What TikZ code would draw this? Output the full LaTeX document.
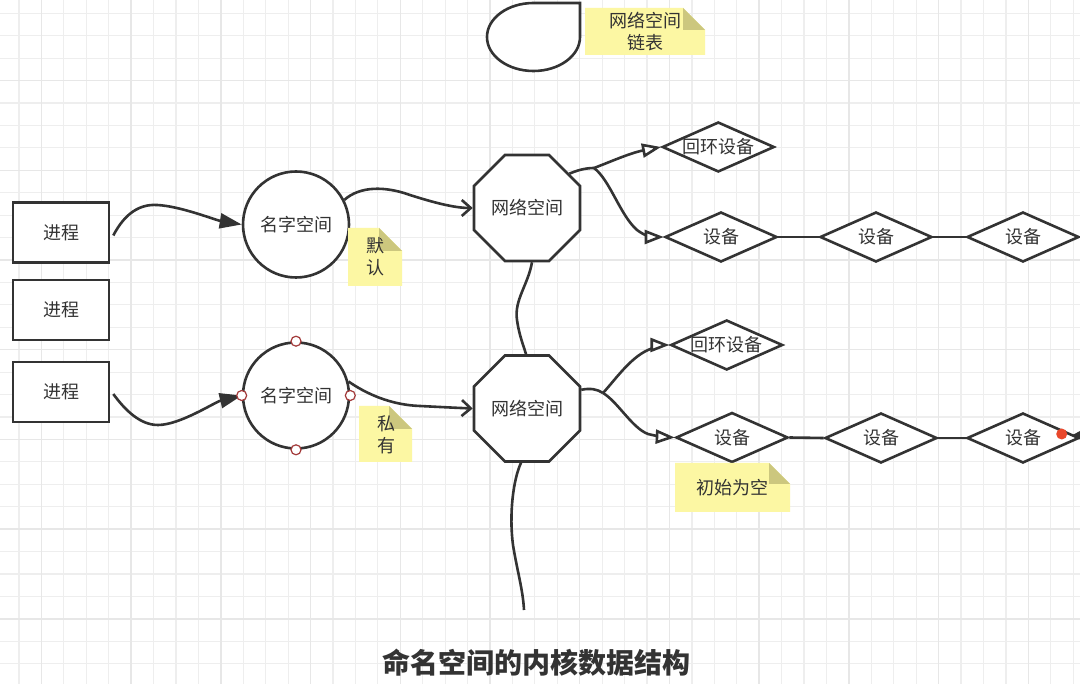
\documentclass[tikz,border=0pt]{standalone}
\usepackage{fontspec}
\setmainfont{Noto Sans CJK SC}
\usetikzlibrary{arrows.meta,shapes.geometric,calc}
\definecolor{ink}{HTML}{333333}
\definecolor{gridminor}{HTML}{EEEEEE}
\definecolor{gridmajor}{HTML}{E7E7E7}
\definecolor{notefill}{HTML}{FCF7A3}
\definecolor{notefold}{HTML}{CCC77E}
\definecolor{handle}{HTML}{A33A3A}
\definecolor{reddot}{HTML}{E9472B}
\newcommand\stickynote[5]{%
  \fill[notefill] (#1,#2) -- ({#3-#5},#2) -- (#3,{#2+#5}) -- (#3,#4) -- (#1,#4) -- cycle;
  \fill[notefold] ({#3-#5},#2) -- ({#3-#5},{#2+#5}) -- (#3,{#2+#5}) -- cycle;}
\begin{document}
\begin{tikzpicture}[x=1pt,y=-1pt,
  txt/.style={text=ink,font=\fontsize{18}{22}\selectfont,inner sep=0pt,align=center},
  proc/.style={txt,draw=ink,line width=2.6pt,fill=white,minimum width=96pt,minimum height=60pt},
  nsp/.style={txt,circle,draw=ink,line width=2.6pt,fill=white,minimum size=106pt},
  net/.style={txt,regular polygon,regular polygon sides=8,draw=ink,line width=2.6pt,fill=white,minimum size=114.7pt},
  dev/.style={diamond,aspect=2.24,draw=ink,line width=2.6pt,fill=white,minimum width=112pt,minimum height=50pt,inner sep=0pt},
  devlabel/.style={label={[txt]center:#1}},
  hnd/.style={circle,draw=handle,line width=1.2pt,fill=white,minimum size=10pt,inner sep=0pt},
  conn/.style={draw=ink,line width=2.6pt},
  fillarrow/.style={conn,-{Triangle[length=22pt,width=15pt]}},
  openv/.style={conn,-{Straight Barb[length=9pt,width=16pt]}},
  opentri/.style={conn,-{Triangle[length=19pt,width=14pt,fill=white]}}
]
\useasboundingbox (0,0) rectangle (1080,684);
\fill[white] (0,0) rectangle (1080,684);
% grid
\foreach \k in {0,...,47}{\draw[gridminor,line width=1.2pt] ({19+22.43*\k},0) -- ({19+22.43*\k},684);}
\foreach \k in {0,...,30}{\draw[gridminor,line width=1.2pt] (0,{13.3+22.43*\k}) -- (1080,{13.3+22.43*\k});}
\foreach \k in {0,...,11}{\draw[gridmajor,line width=1.4pt] ({41.4+89.72*\k},0) -- ({41.4+89.72*\k},684);}
\foreach \k in {0,...,7}{\draw[gridmajor,line width=1.4pt] (0,{80.6+89.72*\k}) -- (1080,{80.6+89.72*\k});}

% top list shape
\draw[ink,line width=2.6pt,fill=white] (533.5,3) -- (580,3) -- (580,37)
  .. controls (580,55.8) and (559.2,71) .. (533.5,71)
  .. controls (507.8,71) and (487,55.8) .. (487,37)
  .. controls (487,18.2) and (507.8,3) .. (533.5,3) -- cycle;
\stickynote{585}{8}{705}{55}{22}
\node[txt] (n0) at (645,31.5) {网络空间\\链表};

% processes
\node[proc] (b1) at (61,232.5) {进程};
\node[proc] (b2) at (61,310) {进程};
\node[proc] (b3) at (61,392) {进程};

% namespaces
\node[nsp] (c1) at (296,224.5) {名字空间};
\node[nsp] (c2) at (296,395.5) {名字空间};

% net namespaces
\node[net] (o1) at (527,208) {网络空间};
\node[net] (o2) at (527,408.5) {网络空间};

% devices
\node[dev,devlabel=回环设备] (d11) at (718.3,147) {};
\node[dev,devlabel=设备] (d12) at (721,237) {};
\node[dev,devlabel=设备] (d13) at (876,237) {};
\node[dev,devlabel=设备] (d14) at (1023,237) {};
\node[dev,devlabel=回环设备] (d21) at (726.7,345) {};
\node[dev,devlabel=设备] (d22) at (732,437.5) {};
\node[dev,devlabel=设备] (d23) at (881,438) {};
\node[dev,devlabel=设备] (d24) at (1023,438) {};

\coordinate (j1) at (594,168);
\coordinate (j2) at (603,393);
\coordinate (tail) at (524,610);

% connectors
\draw[fillarrow] ([xshift=3pt,yshift=-3pt]b1.east) .. controls (125,213) and (140,204) .. (157,205)
  .. controls (180,206) and (215,220) .. (c1.west);
\draw[fillarrow] ([xshift=3pt,yshift=-2pt]b3.east) .. controls (125,410) and (140,425) .. (158,425)
  .. controls (180,425) and (215,402) .. (c2.west);
\draw[openv] (c1.27) .. controls (360,186) and (385,186) .. (410,195)
  .. controls (435,203) and (455,208) .. (o1.west);
\draw[openv] (c2.15) .. controls (365,393) and (390,405) .. (420,406)
  .. controls (440,407) and (460,408) .. (o2.west);
\draw[conn] ([xshift=5pt]o1.south) .. controls (528,285) and (514,300) .. (517,320)
  .. controls (519,335) and (524,347) .. ([xshift=-1pt]o2.north);
\draw[conn] ([xshift=-6pt]o2.south) .. controls (513,480) and (509,515) .. (513,545)
  .. controls (517,570) and (523,590) .. (tail);

\draw[conn] (o1.39) .. controls (578,170) and (586,168) .. (j1);
\draw[opentri] (j1) .. controls (610,162) and (630,153) .. (d11.west);
\draw[opentri] (j1) .. controls (610,180) and (620,215) .. (637,230)
  .. controls (645,236) and (652,237) .. (d12.west);
\draw[conn] (o2.19) .. controls (590,388) and (597,389) .. (j2);
\draw[opentri] (j2) .. controls (615,380) and (630,358) .. (648,350)
  .. controls (655,347) and (662,345) .. (d21.west);
\draw[opentri] (j2) .. controls (618,402) and (632,428) .. (648,434)
  .. controls (656,436) and (664,437) .. (d22.west);

\draw[conn] (d12.east) -- (d13.west);
\draw[conn] (d13.east) -- (d14.west);
\draw[conn] (d22.east) -- (d23.west);
\draw[conn] (d23.east) -- (d24.west);

% handles on selected namespace
\node[hnd] (h1) at (c2.north) {};
\node[hnd] (h2) at (c2.west) {};
\node[hnd] (h3) at (c2.east) {};
\node[hnd] (h4) at (c2.south) {};

% red dot and cut arrow at right
\node[circle,fill=reddot,minimum size=11pt,inner sep=0pt] (rd) at (1061.7,434) {};
\fill[ink] (1072.5,435) -- (1081,430.5) -- (1081,440) -- cycle;

% notes
\stickynote{348}{228}{402}{286}{23}
\node[txt] (n1) at (375,257) {默\\认};
\stickynote{359}{406}{412}{462}{23}
\node[txt] (n2) at (386,434.5) {私\\有};
\stickynote{675}{463}{790}{512}{21}
\node[txt] (n3) at (732,487.5) {初始为空};

% title
\node[text=ink,font=\fontsize{28}{32}\selectfont\bfseries,inner sep=0pt] (title) at (536,663) {命名空间的内核数据结构};
\end{tikzpicture}
\end{document}
